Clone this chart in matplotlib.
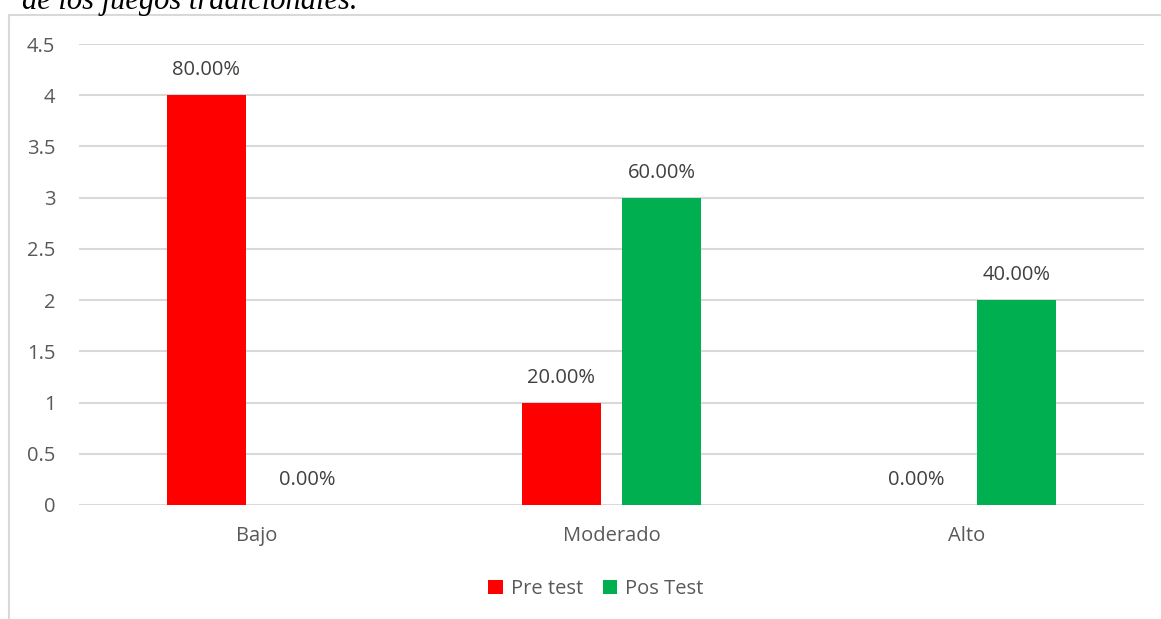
import matplotlib.pyplot as plt
import numpy as np
from matplotlib.patches import Rectangle

categories = ['Bajo', 'Moderado', 'Alto']
pre_test = [4, 1, 0]
pos_test = [0, 3, 2]
pre_labels = ['80.00%', '20.00%', '0.00%']
pos_labels = ['0.00%', '60.00%', '40.00%']
yticks = [0, 0.5, 1, 1.5, 2, 2.5, 3, 3.5, 4, 4.5]

RED = '#FF0000'
GREEN = '#00B050'
TXT = '#595959'
LBL = '#404040'
GRID = '#D9D9D9'
FS = 14.5

plt.rcParams['font.family'] = ['Open Sans', 'DejaVu Sans']

W, H = 1161, 619
fig = plt.figure(figsize=(W / 100, H / 100), dpi=100)

# chart frame (only left and top edges visible in the crop)
fig.patches.append(Rectangle((9 / W, -0.05), 1.2, 1 - 15 / H + 0.05,
                             transform=fig.transFigure, fill=False,
                             edgecolor=GRID, linewidth=1.5))

# cut-off caption above the chart
fig.text(22 / W, 1 - 9 / H, 'de los juegos tradicionales.', fontsize=22,
         family='Liberation Serif', style='italic', va='baseline', ha='left',
         color='black')

ax = fig.add_axes([79 / W, 1 - 505 / H, (1144 - 79) / W, (505 - 44) / H])

x = np.arange(len(categories))
bw = 0.2225
off = 0.142
b1 = ax.bar(x - off, pre_test, bw, color=RED, label='Pre test', zorder=3)
b2 = ax.bar(x + off, pos_test, bw, color=GREEN, label='Pos Test', zorder=3)

for bars, labs in ((b1, pre_labels), (b2, pos_labels)):
    for b, lab in zip(bars, labs):
        ax.annotate(lab, (b.get_x() + b.get_width() / 2, b.get_height()),
                    xytext=(0, 18), textcoords='offset points',
                    ha='center', va='center', fontsize=FS, color=LBL)

ax.set_xlim(-0.5, 2.5)
ax.set_ylim(0, 4.5)
ax.set_yticks(yticks)
ax.set_yticklabels([f'{v:g}' for v in yticks])
ax.set_xticks(x)
ax.set_xticklabels(categories)
ax.tick_params(axis='both', length=0, labelsize=FS, labelcolor=TXT)
ax.tick_params(axis='y', pad=17)
ax.tick_params(axis='x', pad=15)
ax.grid(True, axis='y', color=GRID, linewidth=1.5, zorder=0)
for s in ax.spines.values():
    s.set_visible(False)

ax.legend(loc='center', bbox_to_anchor=(596 / W, 1 - 589 / H),
          bbox_transform=fig.transFigure, ncol=2, frameon=False,
          fontsize=FS, handlelength=0.7, handleheight=0.7,
          columnspacing=1.0, handletextpad=0.4, labelcolor=TXT)

fig.savefig('out.png', dpi=100)
